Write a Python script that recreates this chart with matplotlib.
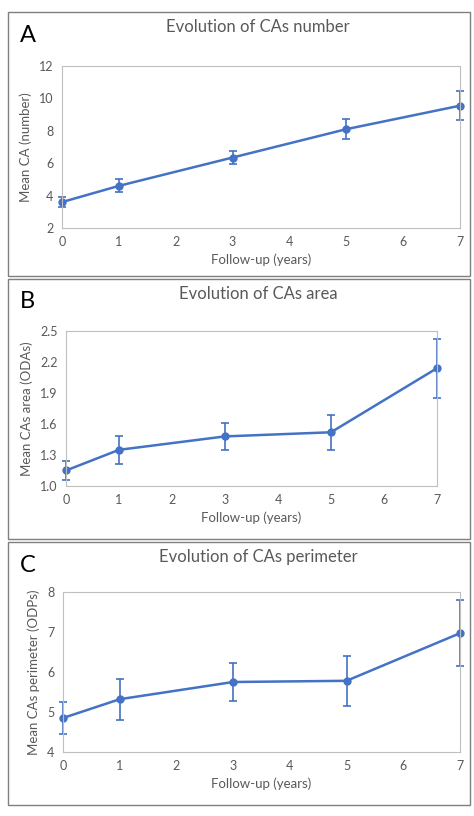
import matplotlib.pyplot as plt
from matplotlib.patches import Rectangle

plt.rcParams['font.family'] = ['Lato', 'DejaVu Sans']

years = [0, 1, 3, 5, 7]
a_mean = [3.6, 4.6, 6.35, 8.1, 9.55]
a_err = [0.3, 0.4, 0.4, 0.6, 0.9]
b_mean = [1.15, 1.35, 1.48, 1.52, 2.14]
b_err = [0.09, 0.135, 0.13, 0.17, 0.285]
c_mean = [4.85, 5.32, 5.75, 5.78, 6.97]
c_err = [0.4, 0.51, 0.48, 0.62, 0.82]

W, H = 474, 816
fig = plt.figure(figsize=(W/100, H/100), dpi=100)
blue = '#4472C4'
gray = '#595959'

def px(l, t, r, b):
    return [l/W, 1-b/H, (r-l)/W, (b-t)/H]

panels = [
    dict(box=(8, 12, 470, 276), ax=(62, 66, 460, 228), letter='A', title='Evolution of CAs number',
         m=a_mean, e=a_err, ylim=(2, 12), yt=[2, 4, 6, 8, 10, 12], fmt='{:.0f}', yl='Mean CA (number)'),
    dict(box=(8, 279, 470, 539), ax=(66, 331, 437, 486), letter='B', title='Evolution of CAs area',
         m=b_mean, e=b_err, ylim=(1.0, 2.5), yt=[1.0, 1.3, 1.6, 1.9, 2.2, 2.5], fmt='{:.1f}', yl='Mean CAs area (ODAs)'),
    dict(box=(8, 542, 470, 805), ax=(63, 592, 460, 752), letter='C', title='Evolution of CAs perimeter',
         m=c_mean, e=c_err, ylim=(4, 8), yt=[4, 5, 6, 7, 8], fmt='{:.0f}', yl='Mean CAs perimeter (ODPs)'),
]

for p in panels:
    l, t, r, b = p['box']
    fig.patches.append(Rectangle((l/W, 1-b/H), (r-l)/W, (b-t)/H, transform=fig.transFigure,
                                 fill=False, edgecolor='#7f7f7f', lw=1))
    fig.text((l+12)/W, 1-(t+23)/H, p['letter'], fontsize=17, va='center', ha='left', color='black')
    ax = fig.add_axes(px(*p['ax']))
    ax.errorbar(years, p['m'], yerr=p['e'], color=blue, marker='o', ms=5, lw=1.8,
                capsize=3, elinewidth=1.2, capthick=1.2, clip_on=False)
    ax.set_xlim(0, 7)
    ax.set_ylim(*p['ylim'])
    ax.set_xticks(range(8))
    ax.set_yticks(p['yt'])
    ax.set_yticklabels([p['fmt'].format(v) for v in p['yt']])
    for s in ax.spines.values():
        s.set_color('#bfbfbf')
    ax.tick_params(length=0, labelsize=9, colors=gray, pad=6)
    ax.set_xlabel('Follow-up (years)', fontsize=9.5, color=gray, labelpad=4)
    ax.set_ylabel(p['yl'], fontsize=9.5, color=gray, labelpad=5)
    fig.text((l+r)/2/W + 0.04, 1-(t+15)/H, p['title'], fontsize=12, ha='center', va='center', color=gray)

fig.savefig('out.png', dpi=100)
